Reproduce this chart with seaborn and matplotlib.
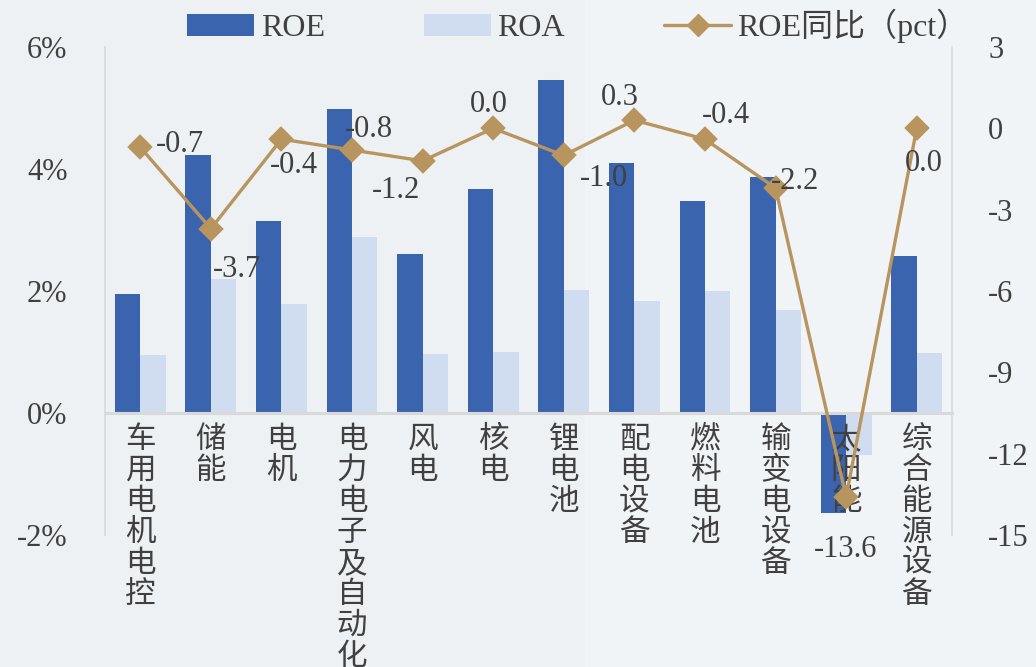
import numpy as np
import pandas as pd
import matplotlib
matplotlib.use("Agg")
import matplotlib.pyplot as plt
import seaborn as sns
from matplotlib.patches import Patch, Rectangle
from matplotlib.lines import Line2D

# ── Data ─────────────────────────────────────────────────────────────────────
categories = ["车用电机电控", "储能", "电机", "电力电子及自动化", "风电", "核电",
              "锂电池", "配电设备", "燃料电池", "输变电设备", "太阳能", "综合能源设备"]
roe = [1.95, 4.23, 3.15, 4.98, 2.61, 3.67, 5.46, 4.10, 3.48, 3.87, -1.64, 2.57]
roa = [0.95, 2.20, 1.79, 2.89, 0.97, 1.00, 2.02, 1.84, 2.00, 1.69, -0.69, 0.98]
roe_yoy = [-0.7, -3.7, -0.4, -0.8, -1.2, 0.0, -1.0, 0.3, -0.4, -2.2, -13.6, 0.0]

left_ticks = [-2, 0, 2, 4, 6]
right_ticks = [-15, -12, -9, -6, -3, 0, 3]

# label offsets (pixels) for the yoy data labels
label_offsets = [(40, 3), (26, -41), (12, -26), (17, 21), (-27, -30), (-4, 24),
                 (40, -23), (-14, 23), (21, 24), (19, 6), (-1, -52), (7, -35)]

C_ROE = "#3b64ae"
C_ROA = "#d0ddf0"
C_LINE = "#b8945f"
C_TEXT = "#404040"
C_GRID = "#d9d9d9"

sns.set_theme(style="white")
plt.rcParams["font.family"] = ["Liberation Serif", "Noto Sans CJK SC", "DejaVu Sans"]

df = pd.DataFrame({
    "cat": categories * 2,
    "val": roe + roa,
    "metric": ["ROE"] * len(roe) + ["ROA"] * len(roa),
})

fig = plt.figure(figsize=(10.36, 6.67), dpi=100)
fig.patch.set_facecolor("#f1f4f6")
fig.patches.append(Rectangle((0, 0), 585 / 1036, 1, transform=fig.transFigure,
                             facecolor="#edf1f3", edgecolor="none", zorder=-10))

ax = fig.add_axes([105 / 1036, 1 - 535 / 667, 847 / 1036, 488 / 667])
ax.set_facecolor("none")

sns.barplot(data=df, x="cat", y="val", hue="metric", hue_order=["ROE", "ROA"],
            palette=[C_ROE, C_ROA], saturation=1, width=0.72, gap=0, linewidth=0,
            legend=False, ax=ax)

# ── YoY line on right axis ───────────────────────────────────────────────────
ax2 = ax.twinx()
sns.pointplot(x=categories, y=roe_yoy, color=C_LINE, markers="D",
              markersize=11, linewidth=2.4, ax=ax2)
ax2.set_ylim(-15, 3)
ax2.set_yticks(right_ticks)
ax2.set_yticklabels([str(v) for v in right_ticks])
ax2.tick_params(axis="y", length=0, pad=26, labelsize=22, labelcolor=C_TEXT)
for s in ["top", "left", "bottom"]:
    ax2.spines[s].set_visible(False)
ax2.spines["right"].set_color(C_GRID)
ax2.spines["right"].set_linewidth(1.2)
ax2.set_xlabel("")
ax2.set_ylabel("")

for i, (v, (dx, dy)) in enumerate(zip(roe_yoy, label_offsets)):
    ax2.annotate(f"{v:.1f}", (i, v), xytext=(dx, dy), textcoords="offset pixels",
                 ha="center", va="center", fontsize=22, color=C_TEXT)

# left axis styling (after pointplot, which shares the x ticker)
ax.set_ylim(-2, 6)
ax.set_xlim(-0.5, len(categories) - 0.5)
ax.set_yticks(left_ticks)
ax.set_yticklabels([f"{v}%" for v in left_ticks])
ax.set_xlabel("")
ax.set_ylabel("")
ax.tick_params(axis="y", length=0, pad=27, labelsize=22, labelcolor=C_TEXT)

# vertical category labels, drawn under the zero line
ax.set_xticks(range(len(categories)))
ax.set_xticklabels([])
ax.tick_params(axis="x", length=0)
for i, c in enumerate(categories):
    ax.annotate("\n".join(c), (i, 0), xytext=(0, -13), textcoords="offset pixels",
                ha="center", va="top", fontsize=22, color=C_TEXT,
                linespacing=1.09, annotation_clip=False)

for s in ["top", "right"]:
    ax.spines[s].set_visible(False)
ax.spines["left"].set_color(C_GRID)
ax.spines["left"].set_linewidth(1.2)
ax.spines["bottom"].set_position(("data", 0))
ax.spines["bottom"].set_color(C_GRID)
ax.spines["bottom"].set_linewidth(2.2)

# ── Legend ───────────────────────────────────────────────────────────────────
handles = [
    Patch(facecolor=C_ROE, edgecolor="none", label="ROE"),
    Patch(facecolor=C_ROA, edgecolor="none", label="ROA"),
    Line2D([], [], color=C_LINE, lw=2.4, marker="D", markersize=11, label="ROE同比（pct）"),
]
fig.legend(handles=handles, loc="center", bbox_to_anchor=(578 / 1036, 1 - 26 / 667),
           ncol=3, frameon=False, fontsize=23, handlelength=2.1, handleheight=0.7,
           handletextpad=0.2, columnspacing=3.1, labelcolor=C_TEXT)

plt.savefig("out.png", dpi=100)
